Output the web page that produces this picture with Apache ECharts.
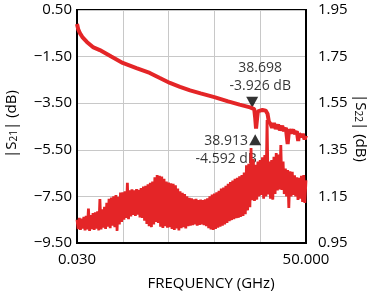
<!DOCTYPE html>
<html><head><meta charset="utf-8">
<script src="https://cdn.jsdelivr.net/npm/echarts@6/dist/echarts.min.js"></script>
<style>html,body{margin:0;padding:0;background:#fff}#c{width:376px;height:295px}</style>
</head><body><div id="c"></div>
<script>
// ---- data ----
const xTickLabels = ['0.030', '50.000'];
const xMin = 0.03, xMax = 50;
const leftMin = -9.5, leftMax = 0.5, leftStep = 2;
const rightMin = 0.95, rightMax = 1.95, rightStep = 0.2;

const s21Freq = [0.03,0.3,0.66,1.2,2.18,3.49,5.0,7.5,10.0,13.0,15.9,18.0,20.3,22.5,24.7,27.0,30.0,33.0,35.5,37.8,38.7,38.9,39.1,39.3,39.5,39.8,40.5,41.2,41.6,41.9,42.3,42.6,43.0,43.4,43.9,44.3,44.8,45.2,45.6,46.0,46.3,46.7,47.2,47.6,48.0,48.3,48.5,48.9,49.3,49.7,50.0];
const s21Db = [-0.10,-0.33,-0.49,-0.66,-0.87,-1.09,-1.22,-1.50,-1.77,-1.99,-2.20,-2.41,-2.63,-2.80,-2.95,-3.08,-3.24,-3.42,-3.56,-3.68,-3.75,-4.10,-4.59,-4.20,-3.85,-3.80,-3.79,-3.82,-3.95,-4.30,-4.40,-4.55,-4.36,-4.60,-4.42,-4.66,-4.48,-4.70,-4.55,-5.25,-4.62,-4.78,-4.64,-4.82,-4.70,-5.12,-4.80,-4.95,-4.82,-5.05,-4.88];

// S22: 201-point sweep from 0.03 to 50 GHz
const s22SweepStart = 0.03, s22SweepStop = 50;
const s22Db = [
1.050,1.010,1.058,1.006,1.055,1.012,1.062,1.004,1.066,1.008,
1.098,1.002,1.070,1.010,1.078,1.006,1.082,1.012,1.086,1.004,
1.139,1.008,1.094,1.016,1.105,1.010,1.122,1.020,1.140,1.014,
1.145,1.024,1.150,1.018,1.156,1.002,1.148,1.030,1.166,1.040,
1.168,1.050,1.172,1.058,1.208,1.052,1.176,1.064,1.180,1.070,
1.176,1.066,1.182,1.072,1.178,1.060,1.186,1.058,1.192,1.046,
1.196,1.032,1.202,1.022,1.208,1.018,1.214,1.030,1.232,1.040,
1.242,1.036,1.238,1.020,1.235,1.014,1.226,1.022,1.214,1.016,
1.210,1.018,1.206,1.010,1.204,1.006,1.198,1.012,1.184,1.004,
1.172,1.014,1.166,1.018,1.160,1.012,1.150,1.022,1.144,1.024,
1.142,1.026,1.138,1.030,1.140,1.024,1.134,1.028,1.136,1.030,
1.134,1.026,1.138,1.022,1.142,1.014,1.150,1.008,1.158,1.006,
1.162,1.010,1.168,1.016,1.174,1.020,1.184,1.024,1.188,1.030,
1.196,1.036,1.204,1.044,1.212,1.048,1.218,1.052,1.226,1.056,
1.230,1.058,1.236,1.062,1.242,1.066,1.252,1.074,1.284,1.090,
1.290,1.104,1.358,1.134,1.310,1.130,1.286,1.136,1.300,1.150,
1.306,1.156,1.318,1.140,1.328,1.150,1.478,1.158,1.300,1.140,
1.306,1.136,1.320,1.160,1.336,1.176,1.330,1.180,1.370,1.178,
1.300,1.160,1.270,1.150,1.263,1.100,1.258,1.150,1.255,1.156,
1.240,1.150,1.232,1.135,1.230,1.140,1.238,1.126,1.242,1.122,
1.220];

const markerFreq = [38.698, 38.913];
const markerDb = [-3.926, -4.592];
const markerText = [['38.698', '-3.926 dB'], ['38.913', '-4.592 dB']];

// ---- build ----
const s21Data = s21Freq.map((f, i) => [f, s21Db[i]]);
const s22Step = (s22SweepStop - s22SweepStart) / (s22Db.length - 1);
const s22Data = s22Db.map((v, i) => [Math.min(s22SweepStart + i * s22Step, s22SweepStop), v]);

const FONT = 'Open Sans';
const RED = '#e42527';
const chart = echarts.init(document.getElementById('c'), null, {renderer: 'canvas'});
const labelStyle = {fontFamily: FONT, fontSize: 15, color: '#000'};
const gridLine = {show: true, lineStyle: {color: '#c8c8c8', width: 1, type: 'solid'}};
const blackLine = {show: true, onZero: false, lineStyle: {color: '#000', width: 2}};

chart.setOption({
  animation: false,
  grid: {left: 77, right: 70, top: 10, bottom: 52, show: true, borderColor: '#000', borderWidth: 2},
  xAxis: {
    type: 'value', min: xMin, max: xMax, interval: (xMax - xMin) / 5,
    axisLine: blackLine, axisTick: {show: false}, splitLine: gridLine,
    axisLabel: Object.assign({
      margin: 9, showMinLabel: true, showMaxLabel: true, hideOverlap: false,
      formatter: v => Math.abs(v - xMin) < 1e-6 ? xTickLabels[0] : (Math.abs(v - xMax) < 1e-3 ? xTickLabels[1] : '')
    }, labelStyle)
  },
  yAxis: [{
    type: 'value', min: leftMin, max: leftMax, interval: leftStep, position: 'left',
    axisLine: blackLine, axisTick: {show: false}, splitLine: gridLine,
    axisLabel: Object.assign({margin: 5, formatter: v => (v < 0 ? '\u2212' : '') + Math.abs(v).toFixed(2)}, labelStyle)
  }, {
    type: 'value', min: rightMin, max: rightMax, interval: rightStep, position: 'right',
    axisLine: blackLine, axisTick: {show: false}, splitLine: {show: false},
    axisLabel: Object.assign({margin: 12, formatter: v => v.toFixed(2)}, labelStyle)
  }],
  series: [{
    type: 'line', yAxisIndex: 1, data: s22Data, showSymbol: false, symbol: 'none',
    lineStyle: {color: RED, width: 2.8}
  }, {
    type: 'line', yAxisIndex: 0, data: s21Data, showSymbol: false, symbol: 'none',
    lineStyle: {color: RED, width: 4}
  }, {
    type: 'scatter', yAxisIndex: 0,
    data: [[markerFreq[0], markerDb[0]]],
    symbol: 'path://M0,0L12,0L6,11Z', symbolSize: [12, 11], symbolOffset: [-2, -11],
    itemStyle: {color: '#000'},
    label: {show: true, position: 'inside', offset: [8, -25], align: 'center', verticalAlign: 'middle',
      fontFamily: FONT, fontSize: 14, color: '#000', lineHeight: 18,
      formatter: markerText[0].join('\n')}
  }, {
    type: 'scatter', yAxisIndex: 0,
    data: [[markerFreq[1], markerDb[1]]],
    symbol: 'path://M6,0L12,11L0,11Z', symbolSize: [12, 11], symbolOffset: [0, 11],
    itemStyle: {color: '#000'},
    label: {show: true, position: 'inside', offset: [-29, 10], align: 'center', verticalAlign: 'middle',
      fontFamily: FONT, fontSize: 14, color: '#000', lineHeight: 18,
      formatter: markerText[1].join('\n')}
  }],
  graphic: [{
    type: 'text', x: 211, y: 284, style: {text: 'FREQUENCY (GHz)', font: '15px "Open Sans"', fill: '#000', align: 'center', verticalAlign: 'middle'}
  }, {
    type: 'text', x: 12, y: 124, rotation: Math.PI / 2,
    style: {text: '|S{s|21}| (dB)', fill: '#000', align: 'center', verticalAlign: 'middle',
      fontFamily: FONT, fontSize: 15,
      rich: {s: {fontFamily: FONT, fontSize: 10, verticalAlign: 'bottom', lineHeight: 10, fill: '#000'}}}
  }, {
    type: 'text', x: 360, y: 128, rotation: -Math.PI / 2,
    style: {text: '|S{s|22}| (dB)', fill: '#000', align: 'center', verticalAlign: 'middle',
      fontFamily: FONT, fontSize: 15,
      rich: {s: {fontFamily: FONT, fontSize: 10, verticalAlign: 'bottom', lineHeight: 10, fill: '#000'}}}
  }]
});
</script>
</body></html>
